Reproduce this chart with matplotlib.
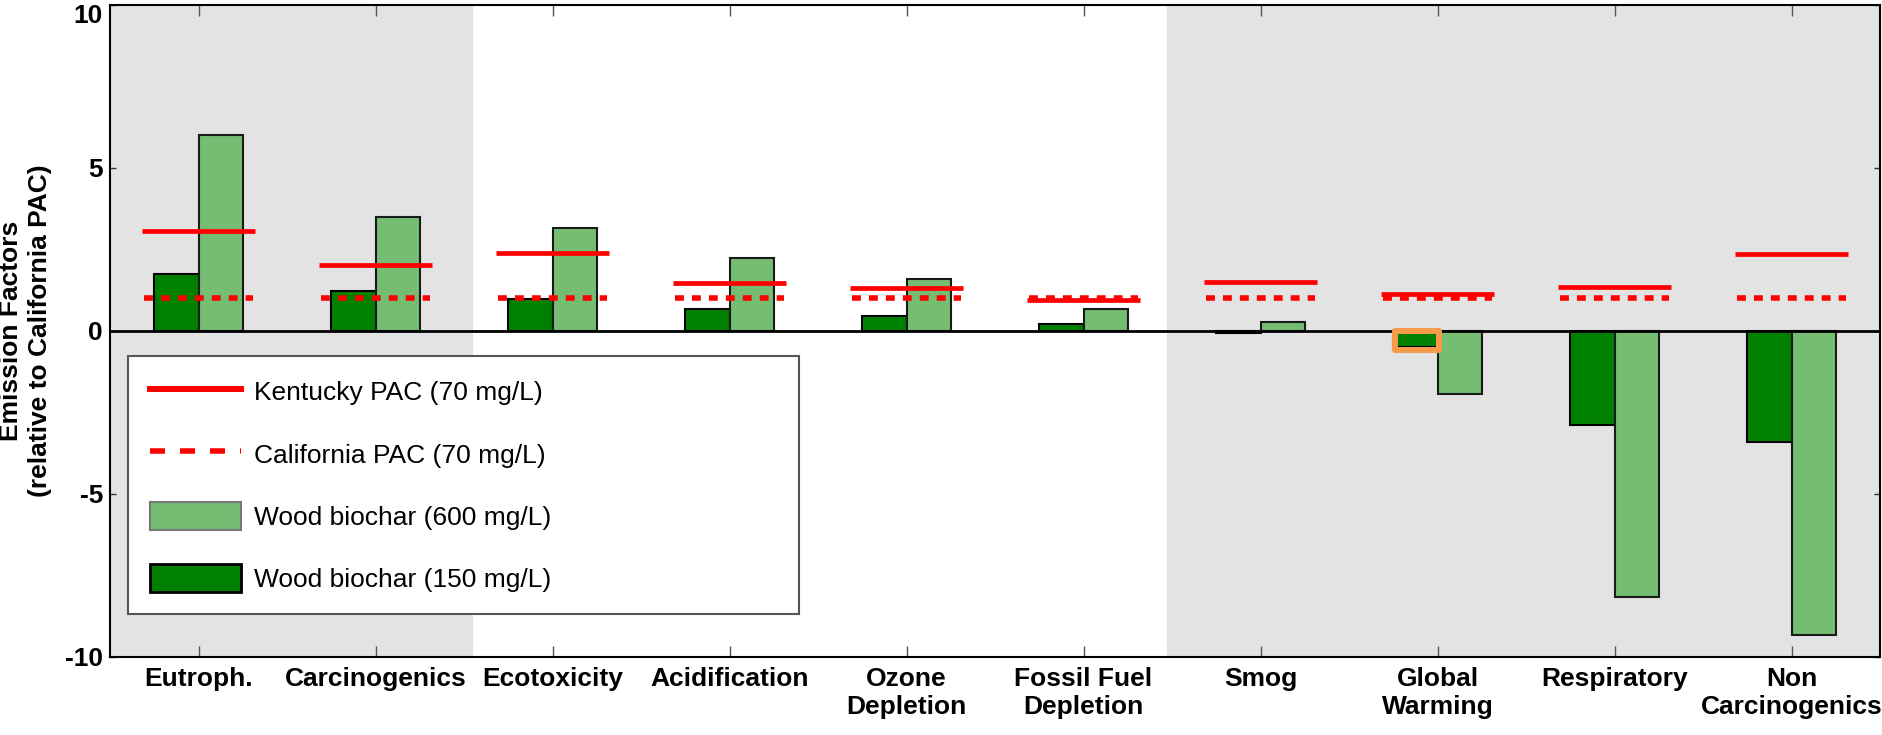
import numpy as np
import matplotlib.pyplot as plt
from matplotlib.patches import Patch, Rectangle
from matplotlib.lines import Line2D
from matplotlib.transforms import ScaledTranslation

plt.rcParams['font.family'] = ['Liberation Sans', 'DejaVu Sans']
plt.rcParams['axes.unicode_minus'] = False

# impact categories and emission factors (relative to California PAC)
categories = ['Eutroph.', 'Carcinogenics', 'Ecotoxicity', 'Acidification', 'Ozone\nDepletion',
              'Fossil Fuel\nDepletion', 'Smog', 'Global\nWarming', 'Respiratory', 'Non\nCarcinogenics']
biochar_150 = [1.75, 1.23, 0.98, 0.66, 0.46, 0.20, -0.07, -0.50, -2.88, -3.40]
biochar_600 = [6.01, 3.50, 3.16, 2.25, 1.61, 0.68, 0.27, -1.93, -8.16, -9.33]
kentucky = [3.07, 2.03, 2.38, 1.47, 1.33, 0.96, 1.51, 1.13, 1.36, 2.35]
california = [1.0, 1.0, 1.0, 1.0, 1.0, 1.0, 1.0, 1.0, 1.0, 1.0]
yticks = [-10, -5, 0, 5, 10]

light_green = '#74BD72'
dark_green = '#008000'
shade = '#E3E3E3'

fig = plt.figure(figsize=(18.83, 7.35), dpi=100)
ax = fig.add_axes([110 / 1883, 1 - 657 / 735, 1770 / 1883, 652 / 735])

x = np.arange(1, len(categories) + 1)
w = 0.25

# shaded groups of categories
ax.axvspan(0.5, 2.55, color=shade, lw=0, zorder=0)
ax.axvspan(6.47, 10.5, color=shade, lw=0, zorder=0)

ax.bar(x - w / 2, biochar_150, width=w, color=dark_green, edgecolor='black', lw=1.5, zorder=2)
ax.bar(x + w / 2, biochar_600, width=w, color=light_green, edgecolor='#1a1a1a', lw=1.5, zorder=2)
ax.axhline(0, color='black', lw=2, zorder=2.5)

ax.hlines(kentucky, x - 0.32, x + 0.32, colors='red', lw=3.4, zorder=3)
ax.hlines(california, x - 0.31, x + 0.31, colors='red', lw=4,
          linestyles=[(0, (1.6, 1.45))], zorder=3)

# highlight box around the global warming bar
hl = 7
ax.add_patch(Rectangle((x[hl] - w + 0.008, biochar_150[hl] - 0.07), w,
                       -(biochar_150[hl] - 0.07) - 0.01, fill=False,
                       edgecolor='#F79A4A', lw=4.3, joinstyle='round', zorder=5))

ax.set_xlim(0.5, 10.5)
ax.set_ylim(-10, 10)
ax.set_xticks(x, categories)
ax.set_yticks(yticks)
ax.tick_params(axis='x', direction='in', length=8, width=1, color='#555555', top=True,
               pad=7, labelsize=19)
ax.tick_params(axis='y', direction='in', length=4, width=1, color='#333333', right=True,
               pad=5, labelsize=19)
plt.setp(ax.get_xticklabels() + ax.get_yticklabels(), fontweight='bold')
# keep the top label inside the figure
top_lbl = ax.get_yticklabels()[-1]
top_lbl.set_transform(top_lbl.get_transform() + ScaledTranslation(0, -0.09, fig.dpi_scale_trans))
for s in ax.spines.values():
    s.set_linewidth(1.5)

fig.text(0.0135, 1 - 331 / 735, 'Emission Factors\n(relative to California PAC)', rotation=90,
         ha='center', va='center', fontsize=19, fontweight='bold', linespacing=1.3)

handles = [Line2D([], [], color='red', lw=4.3),
           Line2D([], [], color='red', lw=4, linestyle=(0, (2.7, 2.7))),
           Patch(facecolor=light_green, edgecolor='#777777', lw=1.5),
           Patch(facecolor=dark_green, edgecolor='black', lw=2)]
labels = ['Kentucky PAC (70 mg/L)', 'California PAC (70 mg/L)',
          'Wood biochar (600 mg/L)', 'Wood biochar (150 mg/L)']
leg = ax.legend(handles, labels, loc='upper left', bbox_to_anchor=(0.0102, 0.0, 0.3791, 0.4617),
                mode='expand', borderaxespad=0, fontsize=19, handlelength=3.45, handleheight=1.25,
                handletextpad=0.5, labelspacing=1.3, borderpad=0.82, fancybox=False,
                framealpha=1, edgecolor='#555555')
leg.get_frame().set_linewidth(1.5)
leg.set_zorder(6)

fig.savefig('out.png', dpi=100)
